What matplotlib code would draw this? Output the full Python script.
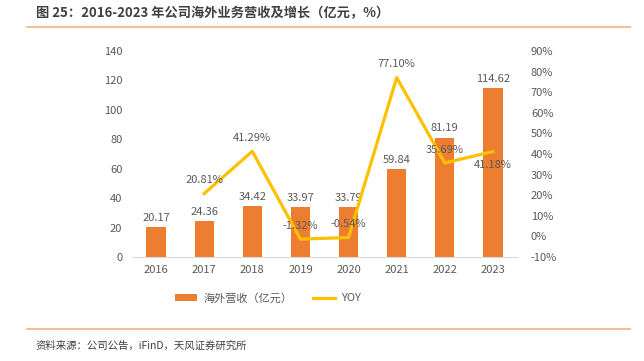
import matplotlib
matplotlib.use("Agg")
import matplotlib.pyplot as plt
import numpy as np

plt.rcParams["font.family"] = ["Noto Sans CJK SC", "DejaVu Sans"]

years = ["2016", "2017", "2018", "2019", "2020", "2021", "2022", "2023"]
revenue = [20.17, 24.36, 34.42, 33.97, 33.79, 59.84, 81.19, 114.62]
yoy_years = years[1:]
yoy = [20.81, 41.29, -1.32, -0.54, 77.10, 35.69, 41.18]

BAR_COLOR = "#ED7D31"
LINE_COLOR = "#FFC000"
TEXT_COLOR = "#595959"
FS = 8

fig = plt.figure(figsize=(6.44, 3.61), dpi=100)
ax = fig.add_axes([132 / 644, 1 - 257 / 361, (517 - 132) / 644, (257 - 51) / 361])
ax2 = ax.twinx()

x = np.arange(len(years))
ax.bar(x, revenue, width=0.4, color=BAR_COLOR, label="海外营收（亿元）", zorder=2)
for xi, v in zip(x, revenue):
    ax.text(xi, v + 3, f"{v:.2f}", ha="center", va="bottom", fontsize=FS, color=TEXT_COLOR)

xl = x[1:]
ax2.plot(xl, yoy, color=LINE_COLOR, lw=2.3, label="YOY", zorder=3)
for i, (xi, v) in enumerate(zip(xl, yoy)):
    if i == len(yoy) - 1:
        ax2.text(xi, v - 4, f"{v:.2f}%", ha="center", va="top", fontsize=FS, color=TEXT_COLOR)
    else:
        ax2.text(xi, v + 4, f"{v:.2f}%", ha="center", va="bottom", fontsize=FS, color=TEXT_COLOR)

ax.set_xlim(-0.5, len(years) - 0.5)
ax.set_ylim(0, 140)
ax.set_yticks(range(0, 141, 20))
ax2.set_ylim(-10, 90)
ax2.set_yticks(range(-10, 91, 10))
ax2.set_yticklabels([f"{t}%" for t in range(-10, 91, 10)])
ax.set_xticks(x)
ax.set_xticklabels(years)

for a in (ax, ax2):
    for s in ("top", "left", "right", "bottom"):
        a.spines[s].set_visible(False)
    a.tick_params(length=0, labelsize=FS, colors=TEXT_COLOR)
ax.spines["bottom"].set_visible(True)
ax.spines["bottom"].set_color("#D9D9D9")
ax.tick_params(axis="y", pad=7)
ax.tick_params(axis="x", pad=6)
ax2.tick_params(axis="y", pad=10)
ax.set_zorder(1)
ax2.set_zorder(2)

h1, l1 = ax.get_legend_handles_labels()
h2, l2 = ax2.get_legend_handles_labels()
fig.legend(h1 + h2, l1 + l2, loc="center", bbox_to_anchor=(268 / 644, 1 - 298 / 361),
           ncol=2, frameon=False, fontsize=FS, labelcolor=TEXT_COLOR,
           handlelength=2.0, handleheight=0.6, columnspacing=1.8, handletextpad=0.6)

fig.text(36 / 644, 1 - 13 / 361, "图 25：2016-2023 年公司海外业务营收及增长（亿元，%）",
         fontsize=9.5, fontweight="bold", color="#404040", va="center")
fig.add_artist(plt.Line2D([27 / 644, 630 / 644], [1 - 27 / 361] * 2, color="#F4B183", lw=1.2))
fig.add_artist(plt.Line2D([27 / 644, 630 / 644], [1 - 329 / 361] * 2, color="#F4B183", lw=1.2))
fig.text(36 / 644, 1 - 346 / 361, "资料来源：公司公告，iFinD，天风证券研究所",
         fontsize=7.5, color="#404040", va="center")

fig.savefig("out.png", dpi=100)
